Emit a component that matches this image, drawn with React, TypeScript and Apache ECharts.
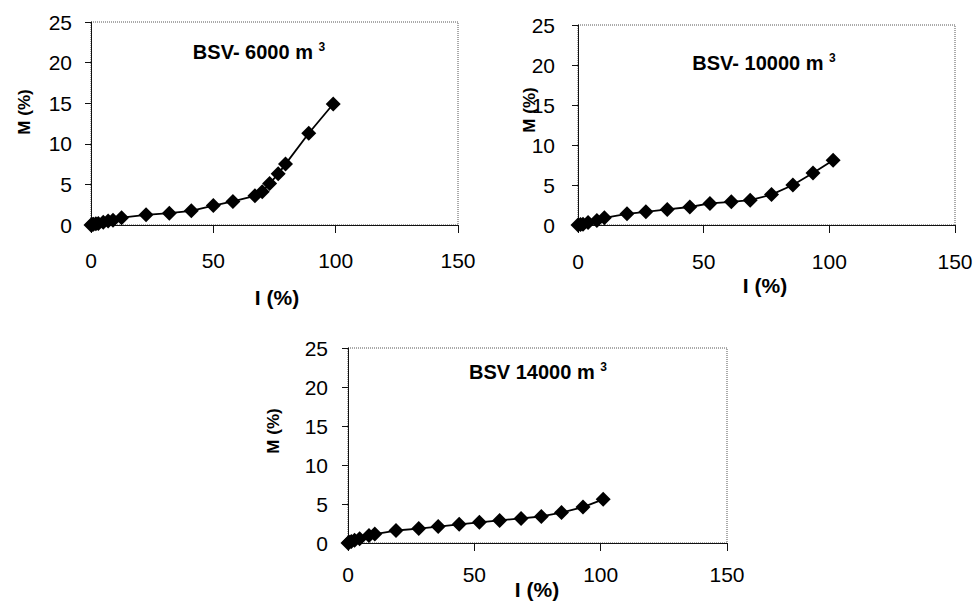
import React, { useEffect, useRef } from "react";
import * as echarts from "echarts";

// Chart 1: BSV- 6000 m3
const x6000 = [0, 0.5, 1, 2, 3, 5, 7, 9, 12.5, 22.5, 32, 41, 50, 58, 67, 70, 73, 76.5, 79.5, 89, 99];
const y6000 = [0, 0.05, 0.1, 0.15, 0.2, 0.35, 0.5, 0.6, 0.9, 1.25, 1.45, 1.75, 2.4, 2.9, 3.6, 4.1, 5.1, 6.3, 7.5, 11.3, 14.9];

// Chart 2: BSV- 10000 m3
const x10000 = [0, 1, 2, 4, 7.5, 10.5, 19.5, 27, 35.5, 44.5, 52.5, 61, 68.5, 77, 85.5, 93.5, 101.5];
const y10000 = [0, 0.05, 0.1, 0.3, 0.55, 0.9, 1.4, 1.65, 1.95, 2.25, 2.7, 2.9, 3.1, 3.8, 5.0, 6.5, 8.1];

// Chart 3: BSV 14000 m3
const x14000 = [0, 0.5, 1.3, 2.6, 4.6, 8.3, 10.6, 19, 28, 35.7, 44, 52, 60, 68.5, 76.5, 84.5, 93, 101];
const y14000 = [0, 0.1, 0.2, 0.35, 0.55, 0.95, 1.15, 1.6, 1.85, 2.1, 2.4, 2.65, 2.9, 3.15, 3.4, 3.9, 4.6, 5.6];

const titleMain = ["BSV- 6000 m ", "BSV- 10000 m ", "BSV 14000 m "];
const titleSup = "3";
const xTicks = { min: 0, max: 150, interval: 50 };
const yTicks = { min: 0, max: 25, interval: 5 };
const xName = "I (%)";
const yName = "M (%)";

const FONT = "Liberation Sans, Arial, sans-serif";

export default function App() {
  const ref = useRef<HTMLDivElement>(null);
  useEffect(() => {
    if (!ref.current) return;
    const chart = echarts.init(ref.current, null, { renderer: "svg" });
    const grids = [
      { left: 91, top: 22, width: 367, height: 203 },
      { left: 578, top: 25, width: 377, height: 200 },
      { left: 348, top: 348, width: 379, height: 195 },
    ];
    const xMargins = [25, 26, 21];
    const yMargins = [19, 23, 20];
    const datasets = [
      [x6000, y6000],
      [x10000, y10000],
      [x14000, y14000],
    ];
    const titlePos = [
      [259, 52],
      [764, 63],
      [538, 372],
    ];
    const xNamePos = [
      [277, 297],
      [765, 285],
      [537, 589],
    ];
    const yNamePos = [
      [24, 112],
      [529, 110],
      [273, 431],
    ];
    const graphic: any[] = [];
    for (let i = 0; i < 3; i++) {
      graphic.push({
        type: "text",
        x: titlePos[i][0],
        y: titlePos[i][1],
        style: {
          text: `{a|${titleMain[i]}}{b|${titleSup}}`,
          rich: {
            a: { fontFamily: FONT, fontWeight: "bold", fontSize: 20, fill: "#000", color: "#000", lineHeight: 22 },
            b: { fontFamily: FONT, fontWeight: "bold", fontSize: 12, fill: "#000", color: "#000", verticalAlign: "top", lineHeight: 12 },
          },
          textAlign: "center",
          textVerticalAlign: "middle",
        },
      });
      graphic.push({
        type: "text",
        x: xNamePos[i][0],
        y: xNamePos[i][1],
        style: {
          text: xName,
          fontFamily: FONT,
          fontWeight: "bold",
          fontSize: 21,
          fill: "#000",
          textAlign: "center",
          textVerticalAlign: "middle",
        },
      });
      graphic.push({
        type: "text",
        x: yNamePos[i][0],
        y: yNamePos[i][1],
        rotation: Math.PI / 2,
        style: {
          text: yName,
          fontFamily: FONT,
          fontWeight: "bold",
          fontSize: 17,
          fill: "#000",
          textAlign: "center",
          textVerticalAlign: "middle",
        },
      });
    }
    const option: any = {
      animation: false,
      backgroundColor: "#fff",
      grid: grids.map((g) => ({
        ...g,
        show: true,
        borderColor: "#555",
        borderWidth: 1,
        borderType: "dotted",
        backgroundColor: "transparent",
      })),
      xAxis: grids.map((_, i) => ({
        type: "value",
        gridIndex: i,
        ...xTicks,
        axisLine: { show: true, onZero: false, lineStyle: { color: "#111", width: 1 } },
        axisTick: { show: true, length: 8, lineStyle: { color: "#111" } },
        axisLabel: { margin: xMargins[i], fontSize: 21, color: "#000", fontFamily: FONT },
        splitLine: { show: false },
      })),
      yAxis: grids.map((_, i) => ({
        type: "value",
        gridIndex: i,
        ...yTicks,
        axisLine: { show: true, onZero: false, lineStyle: { color: "#111", width: 1 } },
        axisTick: { show: true, length: 6, lineStyle: { color: "#111" } },
        axisLabel: { margin: yMargins[i], fontSize: 21, color: "#000", fontFamily: FONT },
        splitLine: { show: false },
      })),
      series: datasets.map((d, i) => ({
        type: "line",
        xAxisIndex: i,
        yAxisIndex: i,
        data: d[0].map((x, k) => [x, d[1][k]]),
        symbol: "diamond",
        symbolSize: 15,
        showAllSymbol: true,
        itemStyle: { color: "#000" },
        lineStyle: { color: "#000", width: 1.8 },
        clip: false,
      })),
      graphic,
    };
    chart.setOption(option);
    return () => chart.dispose();
  }, []);
  return (
    <div
      ref={ref}
      style={{ position: "fixed", left: 0, top: 0, width: 977, height: 604, background: "#fff" }}
    />
  );
}
